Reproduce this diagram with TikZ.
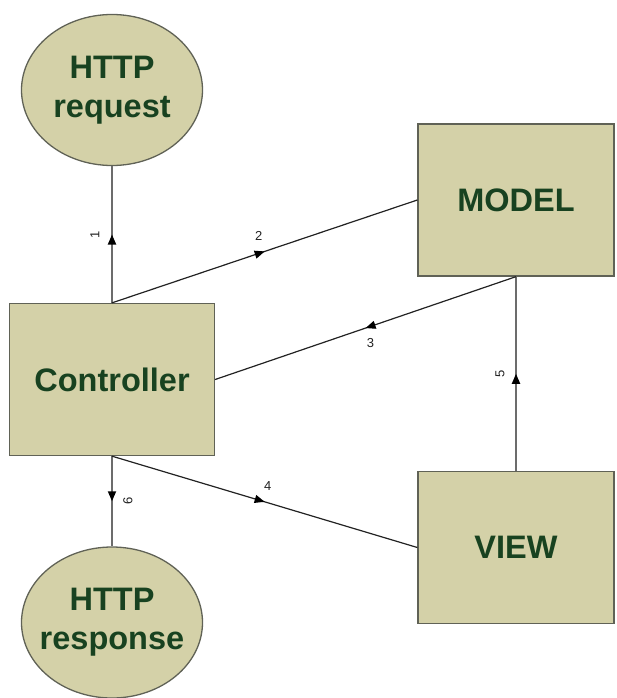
\documentclass[tikz,border=0pt]{standalone}
\usepackage{fontspec}
\setmainfont{Liberation Sans}
\usetikzlibrary{shapes.geometric,arrows.meta,decorations.markings}

\definecolor{khaki}{RGB}{212,209,168}
\definecolor{darkgreen}{RGB}{24,66,32}
\definecolor{rimgray}{RGB}{96,98,86}
\definecolor{vline}{RGB}{108,108,108}
\definecolor{dline}{RGB}{34,34,34}

\tikzset{
  block/.style={draw=rimgray, line width=1.3pt, fill=khaki, text=darkgreen,
    font=\fontsize{32.5}{39}\selectfont\bfseries, align=center, inner sep=0pt},
  box/.style={block, rectangle},
  bubble/.style={block, ellipse, inner xsep=-14pt},
  midarrow/.style={postaction={decorate}, decoration={markings,
    mark=at position 0.5 with {\arrow{Triangle[length=10pt,width=8pt,color=black]}}}},
  vflow/.style={midarrow, draw=vline, line width=1.8pt},
  dflow/.style={midarrow, draw=dline, line width=1.2pt},
  num/.style={font=\fontsize{13}{13}\selectfont, text=dline, inner sep=1pt}
}

\begin{document}
\begin{tikzpicture}[x=1pt,y=-1pt]
\pgfmathsetmacro{\BW}{196}
\pgfmathsetmacro{\BH}{152}
\pgfmathsetmacro{\EW}{181}
\pgfmathsetmacro{\EH}{151}

\useasboundingbox (0,0) rectangle (616,698);

\node[bubble, minimum width=\EW pt, minimum height=\EH pt] (req) at (112,90) {HTTP\\request};
\node[box, minimum width=205pt, minimum height=\BH pt] (ctrl) at (112,379.5) {Controller};
\node[bubble, minimum width=\EW pt, minimum height=\EH pt] (resp) at (112,622.5) {HTTP\\response};
\node[box, minimum width=\BW pt, minimum height=\BH pt] (model) at (516,200) {MODEL};
\node[box, minimum width=\BW pt, minimum height=\BH pt] (view) at (516,547.5) {VIEW};

% vertical links
\draw[vflow] (ctrl.north) -- node[num, midway, xshift=-17pt, rotate=90] (n1) {1} (req.south);
\draw[vflow] (view.north) -- node[num, midway, xshift=-16pt, rotate=90] (n5) {5} (model.south);
\draw[vflow] (ctrl.south) -- node[num, midway, xshift=16pt, rotate=90] (n6) {6} (resp.north);

% slanted links
\draw[dflow] (ctrl.north) -- node[num, midway, xshift=-6pt, yshift=15pt] (n2) {2} (model.west);
\draw[dflow] (model.south) -- node[num, midway, xshift=5pt, yshift=-15pt] (n3) {3} (ctrl.east);
\draw[dflow] (ctrl.south) -- node[num, midway, xshift=3pt, yshift=16pt] (n4) {4} (view.west);
\end{tikzpicture}
\end{document}
